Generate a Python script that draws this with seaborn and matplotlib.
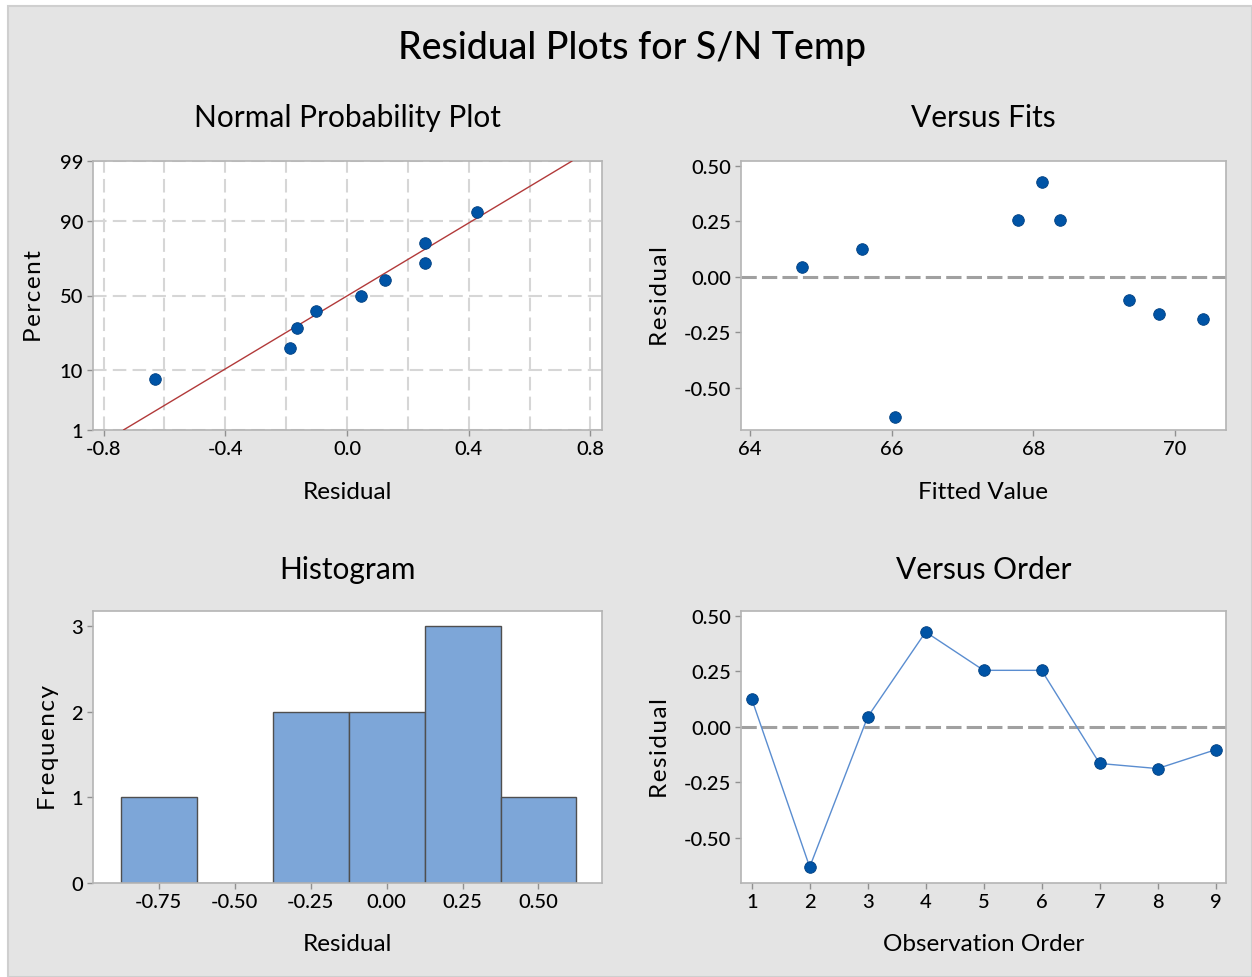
import numpy as np
import pandas as pd
import matplotlib
matplotlib.use('Agg')
import matplotlib.pyplot as plt
from matplotlib.patches import Rectangle
import seaborn as sns
from statistics import NormalDist

# residuals and fitted values, in observation order
order = [1, 2, 3, 4, 5, 6, 7, 8, 9]
residuals = [0.126, -0.632, 0.045, 0.428, 0.255, 0.255, -0.165, -0.188, -0.103]
fits = [65.59, 66.05, 64.74, 68.13, 67.79, 68.38, 69.78, 70.39, 69.35]

pct_ticks = [1, 10, 50, 90, 99]
npp_xticks = [-0.8, -0.4, 0.0, 0.4, 0.8]
res_ticks = [-0.50, -0.25, 0.00, 0.25, 0.50]
fit_ticks = [64, 66, 68, 70]
hist_xticks = [-0.75, -0.50, -0.25, 0.00, 0.25, 0.50]
freq_ticks = [0, 1, 2, 3]

df = pd.DataFrame({'order': order, 'resid': residuals, 'fit': fits})

sns.set_theme(style='white')
plt.rcParams['font.family'] = ['Lato', 'DejaVu Sans']
plt.rcParams['font.weight'] = 'medium'
plt.rcParams['text.color'] = 'black'
plt.rcParams['axes.edgecolor'] = '#B4B4B4'
plt.rcParams['axes.linewidth'] = 1.2
plt.rcParams['xtick.color'] = '#909090'
plt.rcParams['ytick.color'] = '#909090'
plt.rcParams['xtick.labelcolor'] = 'black'
plt.rcParams['ytick.labelcolor'] = 'black'

W, H = 1252, 978
fig = plt.figure(figsize=(W / 100, H / 100), dpi=100, facecolor='white')
fig.add_artist(Rectangle((8 / W, 0), 1 - 8 / W, 1 - 7 / H, transform=fig.transFigure,
                         facecolor='#E4E4E4', edgecolor='#CFCFCF', lw=1.5, zorder=-10))


def add_ax(left, top, right, bottom):
    return fig.add_axes([left / W, 1 - bottom / H, (right - left) / W, (bottom - top) / H])


def spaced(s):
    # Minitab spreads the letters of rotated labels
    return '\u200a'.join(s)


blue = '#0054A6'
title_fs = 21.5
label_fs = 17.5
tick_fs = 14.5
grid_ls = (0, (6.5, 3))
ref_ls = (0, (5, 1.7))


def style(ax, title, xlabel, ylabel, ty, xly, ylx):
    ax.set_facecolor('white')
    for s in ax.spines.values():
        s.set_visible(True)
    ax.tick_params(axis='both', which='major', direction='out', length=4, width=1,
                   labelsize=tick_fs, pad=3, bottom=True, left=True)
    ax.set_title(title, fontsize=title_fs, y=ty, va='center', pad=0, color='black')
    ax.set_xlabel(xlabel, fontsize=label_fs, color='black')
    ax.set_ylabel(spaced(ylabel), fontsize=label_fs, color='black')
    ax.xaxis.set_label_coords(0.5, xly)
    ax.xaxis.label.set_va('center')
    ax.yaxis.set_label_coords(ylx, 0.5)
    ax.yaxis.label.set_va('center')


# Normal probability plot
ax1 = add_ax(93, 162, 602, 431)
n = len(residuals)
srt = np.sort(residuals)
nd = NormalDist()
z_pts = [nd.inv_cdf((i - 0.3) / (n + 0.4)) for i in range(1, n + 1)]
mu, sd = np.mean(residuals), np.std(residuals, ddof=1)
z_line = np.linspace(nd.inv_cdf(0.01), nd.inv_cdf(0.99), 200)
sns.lineplot(x=mu + sd * z_line, y=z_line, ax=ax1, color='#B23A3A', lw=1.0,
             sort=False, estimator=None, zorder=3)
sns.scatterplot(x=srt, y=z_pts, ax=ax1, color=blue, s=70, edgecolor='#003F80',
                linewidth=0.6, zorder=4)
ax1.set_xlim(-0.835, 0.838)
ax1.set_ylim(nd.inv_cdf(0.01), nd.inv_cdf(0.99))
ax1.set_xticks(npp_xticks)
ax1.set_xticklabels([f'{v:.1f}' for v in npp_xticks])
ax1.set_xticks(np.arange(-0.8, 0.81, 0.2), minor=True)
ax1.set_yticks([nd.inv_cdf(p / 100) for p in pct_ticks])
ax1.set_yticklabels([str(p) for p in pct_ticks])
ax1.tick_params(axis='x', which='minor', length=0)
ax1.grid(True, which='both', axis='x', color='#D6D6D6', lw=1.5, ls=grid_ls)
ax1.grid(True, which='major', axis='y', color='#D6D6D6', lw=1.5, ls=grid_ls)
ax1.set_axisbelow(True)
style(ax1, 'Normal Probability Plot', 'Residual', 'Percent', 1.164, -0.227, -0.114)

# Versus fits
ax2 = add_ax(741, 162, 1226, 431)
sns.scatterplot(data=df, x='fit', y='resid', ax=ax2, color=blue, s=70,
                edgecolor='#003F80', linewidth=0.6, zorder=4)
ax2.axhline(0, color='#A0A0A0', lw=2.2, ls=ref_ls, zorder=2)
ax2.set_xlim(63.876, 70.72)
ax2.set_ylim(-0.69, 0.5225)
ax2.set_xticks(fit_ticks)
ax2.set_yticks(res_ticks)
ax2.set_yticklabels([f'{v:.2f}' for v in res_ticks])
style(ax2, 'Versus Fits', 'Fitted Value', 'Residual', 1.164, -0.227, -0.167)

# Histogram
ax3 = add_ax(93, 612, 602, 884)
sns.histplot(x=residuals, ax=ax3, binwidth=0.25, binrange=(-0.875, 0.625),
             color='#7DA6D8', edgecolor='#4F4F4F', linewidth=1.0, alpha=1)
ax3.set_xlim(-0.966, 0.709)
ax3.set_ylim(0, 3.18)
ax3.set_xticks(hist_xticks)
ax3.set_xticklabels([f'{v:.2f}' for v in hist_xticks])
ax3.set_yticks(freq_ticks)
style(ax3, 'Histogram', 'Residual', 'Frequency', 1.154, -0.221, -0.088)

# Versus order
ax4 = add_ax(741, 612, 1226, 884)
ax4.axhline(0, color='#A0A0A0', lw=2.2, ls=ref_ls, zorder=2)
sns.lineplot(data=df, x='order', y='resid', ax=ax4, color='#5A8DD0', lw=1.0, zorder=3)
sns.scatterplot(data=df, x='order', y='resid', ax=ax4, color=blue, s=70,
                edgecolor='#003F80', linewidth=0.6, zorder=4)
ax4.set_xlim(0.815, 9.18)
ax4.set_ylim(-0.704, 0.5225)
ax4.set_xticks(order)
ax4.set_yticks(res_ticks)
ax4.set_yticklabels([f'{v:.2f}' for v in res_ticks])
style(ax4, 'Versus Order', 'Observation Order', 'Residual', 1.154, -0.221, -0.167)

fig.text(632 / W, 1 - 49 / H, 'Residual Plots for S/N Temp', fontsize=27,
         ha='center', va='center', color='black')

fig.savefig('out.png', dpi=100, facecolor=fig.get_facecolor())
